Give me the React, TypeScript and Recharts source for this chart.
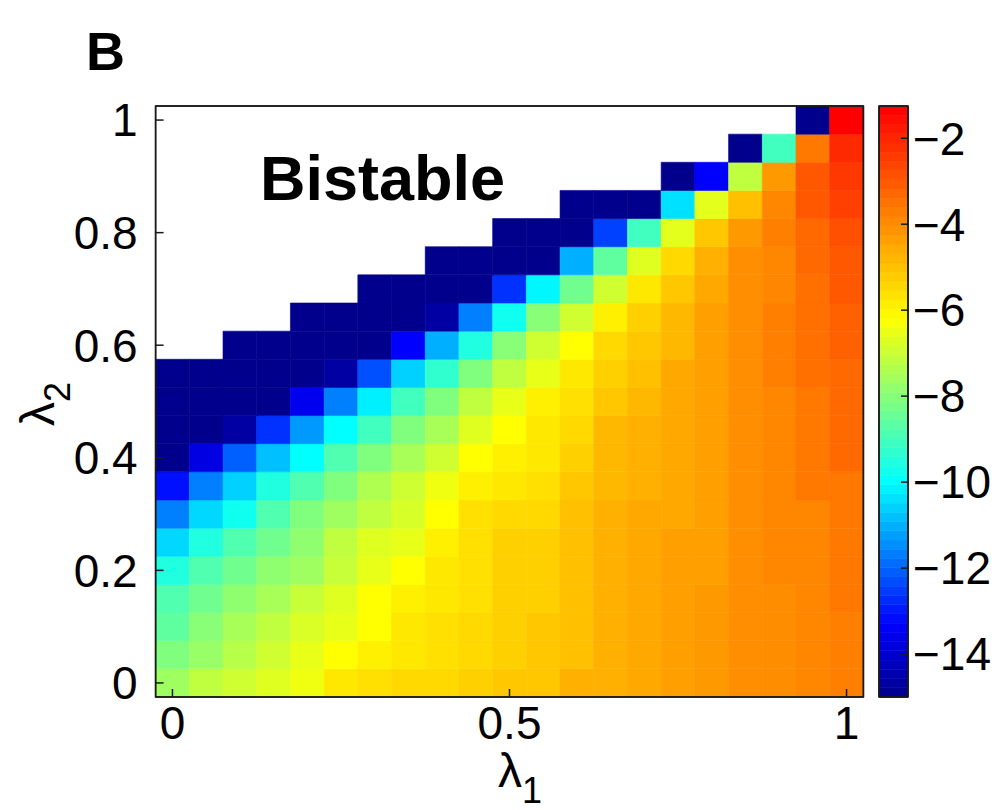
import { ScatterChart, Scatter, XAxis, YAxis, ReferenceArea } from 'recharts'

// grid coordinates (cell centres)
const lambda1 = [0, 0.05, 0.1, 0.15, 0.2, 0.25, 0.3, 0.35, 0.4, 0.45, 0.5, 0.55, 0.6, 0.65, 0.7, 0.75, 0.8, 0.85, 0.9, 0.95, 1]
const lambda2 = [0, 0.05, 0.1, 0.15, 0.2, 0.25, 0.3, 0.35, 0.4, 0.45, 0.5, 0.55, 0.6, 0.65, 0.7, 0.75, 0.8, 0.85, 0.9, 0.95, 1]
const xTicks = [0, 0.5, 1]
const yTicks = [0, 0.2, 0.4, 0.6, 0.8, 1]
const barTicks = [-14, -12, -10, -8, -6, -4, -2]
const cMin = -15
const cMax = -1.25

// one row per lambda2 value, columns follow lambda1; null = bistable (blank)
const z00 = [-7.63, -7.15, -6.91, -6.67, -6.42, -5.76, -5.61, -5.47, -5.47, -5.29, -5.12, -5.12, -4.68, -4.68, -4.53, -4.36, -4.24, -4.04, -4.0, -3.9, -3.75]
const z01 = [-8.1, -7.72, -7.27, -6.91, -6.54, -6.2, -5.91, -5.76, -5.61, -5.47, -5.29, -5.12, -4.98, -4.68, -4.53, -4.36, -4.24, -4.04, -4.0, -3.9, -3.75]
const z02 = [-8.58, -7.98, -7.49, -7.15, -6.77, -6.54, -6.2, -5.76, -5.61, -5.47, -5.29, -5.12, -4.98, -4.68, -4.53, -4.36, -4.24, -4.04, -4.0, -3.9, -3.75]
const z03 = [-8.81, -8.33, -7.86, -7.49, -7.03, -6.67, -6.2, -5.91, -5.76, -5.61, -5.29, -5.29, -4.98, -4.68, -4.53, -4.36, -4.24, -4.04, -4.0, -3.9, -3.6]
const z04 = [-9.52, -8.81, -8.33, -7.86, -7.63, -7.03, -6.54, -6.2, -5.76, -5.61, -5.29, -5.29, -4.98, -4.68, -4.53, -4.36, -4.36, -4.04, -3.9, -3.9, -3.6]
const z05 = [-10.5, -9.52, -8.81, -8.33, -7.86, -7.15, -6.67, -6.54, -5.91, -5.61, -5.29, -5.29, -4.98, -4.68, -4.53, -4.36, -4.36, -4.04, -3.9, -3.9, -3.6]
const z06 = [-11.65, -10.5, -9.77, -8.81, -8.1, -7.63, -7.15, -6.8, -6.2, -5.61, -5.47, -5.47, -4.98, -4.68, -4.53, -4.53, -4.36, -4.04, -3.9, -3.9, -3.6]
const z07 = [-13.1, -11.65, -10.6, -9.52, -8.81, -8.1, -7.39, -6.95, -6.42, -5.91, -5.76, -5.61, -5.12, -4.83, -4.68, -4.53, -4.36, -4.04, -3.9, -3.6, -3.6]
const z08 = [-15, -13.71, -12.06, -10.82, -10, -8.81, -8.1, -7.49, -6.91, -6.2, -5.91, -5.76, -5.29, -4.83, -4.68, -4.53, -4.36, -4.04, -3.9, -3.6, -3.31]
const z09 = [-15, -15, -14.66, -12.67, -11.32, -10, -9.05, -8.1, -7.49, -6.67, -6.2, -5.76, -5.47, -4.83, -4.68, -4.53, -4.36, -4.04, -3.9, -3.6, -3.31]
const z10 = [-15, -15, -15, -15, -13.53, -11.65, -10.2, -9.05, -8.1, -7.15, -6.54, -5.91, -5.61, -5.12, -4.83, -4.53, -4.36, -4.04, -3.9, -3.6, -3.31]
const z11 = [-15, -15, -15, -15, -15, -14.66, -12.27, -10.6, -9.29, -8.1, -7.15, -6.54, -5.76, -5.29, -4.98, -4.53, -4.36, -4.04, -3.75, -3.46, -3.31]
const z12 = [null, null, -15, -15, -15, -15, -15, -13.3, -11.03, -9.52, -7.98, -6.91, -6.2, -5.47, -5.12, -4.83, -4.36, -4.04, -3.75, -3.46, -3.14]
const z13 = [null, null, null, null, -15, -15, -15, -15, -14.66, -11.65, -9.77, -7.98, -6.91, -5.91, -5.29, -4.83, -4.36, -4.04, -3.75, -3.46, -3.14]
const z14 = [null, null, null, null, null, null, -15, -15, -15, -15, -12.67, -10.1, -8.33, -6.91, -5.76, -5.12, -4.53, -4.04, -3.9, -3.46, -2.99]
const z15 = [null, null, null, null, null, null, null, null, -15, -15, -15, -15, -11.03, -8.58, -6.67, -5.47, -4.68, -4.04, -3.9, -3.31, -2.99]
const z16 = [null, null, null, null, null, null, null, null, null, null, -15, -15, -15, -12.47, -9.05, -6.6, -5.12, -4.24, -3.75, -3.31, -2.82]
const z17 = [null, null, null, null, null, null, null, null, null, null, null, null, -15, -15, -15, -10.4, -6.6, -4.98, -3.9, -2.99, -2.53]
const z18 = [null, null, null, null, null, null, null, null, null, null, null, null, null, null, null, -15, -13.3, -7.15, -4.24, -2.99, -2.38]
const z19 = [null, null, null, null, null, null, null, null, null, null, null, null, null, null, null, null, null, -15, -9.05, -3.6, -2.08]
const z20 = [null, null, null, null, null, null, null, null, null, null, null, null, null, null, null, null, null, null, null, -15, -1.3]

const zRows = [z00, z01, z02, z03, z04, z05, z06, z07, z08, z09, z10, z11, z12, z13, z14, z15, z16, z17, z18, z19, z20]

const HALF = 0.025
const FONT = '"Liberation Sans", Arial, Helvetica, sans-serif'

// jet-like colormap anchors
const MAP_V = [-15, -13.3, -10, -6.2, -1.3]
const MAP_C = [
  [0, 0, 0.55],
  [0, 0, 1],
  [0, 1, 1],
  [1, 1, 0],
  [1, 0, 0],
]

function jet(v: number) {
  let k = 0
  if (v <= MAP_V[0]) k = 0
  else if (v >= MAP_V[MAP_V.length - 1]) k = MAP_V.length - 2
  else while (v > MAP_V[k + 1]) k++
  let t = (v - MAP_V[k]) / (MAP_V[k + 1] - MAP_V[k])
  t = Math.max(0, Math.min(1, t))
  const c = MAP_C[k].map((a, i) => Math.round(255 * (a + (MAP_C[k + 1][i] - a) * t)))
  return `rgb(${c[0]},${c[1]},${c[2]})`
}

const cells: { x: number; y: number; v: number }[] = []
zRows.forEach((row, j) =>
  row.forEach((v, i) => {
    if (v !== null) cells.push({ x: lambda1[i], y: lambda2[j], v })
  })
)

// 64 colour bands of the colorbar
const bands = Array.from({ length: 64 }, (_, k) => {
  const lo = cMin + ((cMax - cMin) * k) / 64
  const hi = cMin + ((cMax - cMin) * (k + 1)) / 64
  return { x: 0.5, y: (lo + hi) / 2, lo, hi, color: jet((lo + hi) / 2) }
})

const tickStyle = { fill: '#000', fontSize: 46, fontFamily: FONT }
const lineStyle = { stroke: '#1a1a1a', strokeWidth: 1.5 }
const noShape = () => <g />

function HeatMap() {
  return (
    <ScatterChart width={870} height={810} margin={{ top: 105, right: 5.6, bottom: 53, left: 55.6 }}>
      {cells.map((c, i) => (
        <ReferenceArea
          key={i}
          x1={c.x - HALF}
          x2={c.x + HALF}
          y1={c.y - HALF}
          y2={c.y + HALF}
          fill={jet(c.v)}
          fillOpacity={1}
          stroke={jet(c.v)}
          strokeWidth={0.6}
          ifOverflow="visible"
        />
      ))}
      {/* plot frame */}
      <ReferenceArea x1={-0.025} x2={1.025} y1={-0.025} y2={1.025} fill="none" stroke="#1a1a1a" strokeWidth={1.5} ifOverflow="visible" />
      <Scatter data={cells} dataKey="v" isAnimationActive={false} shape={noShape} />
      <Scatter data={cells} dataKey="v" xAxisId="top" yAxisId="right" isAnimationActive={false} shape={noShape} />
      <XAxis
        type="number"
        dataKey="x"
        domain={[-0.025, 1.025]}
        ticks={xTicks}
        allowDataOverflow
        height={60}
        tickSize={-8}
        tickMargin={17}
        tick={tickStyle}
        axisLine={lineStyle}
        tickLine={lineStyle}
      />
      <XAxis
        xAxisId="top"
        orientation="top"
        type="number"
        dataKey="x"
        domain={[-0.025, 1.025]}
        ticks={xTicks}
        allowDataOverflow
        height={1}
        tickSize={-8}
        tick={false}
        axisLine={lineStyle}
        tickLine={lineStyle}
      />
      <YAxis
        type="number"
        dataKey="y"
        domain={[-0.025, 1.025]}
        ticks={yTicks}
        allowDataOverflow
        width={100}
        tickSize={-8}
        tickMargin={26}
        tick={tickStyle}
        axisLine={lineStyle}
        tickLine={lineStyle}
      />
      <YAxis
        yAxisId="right"
        orientation="right"
        type="number"
        dataKey="y"
        domain={[-0.025, 1.025]}
        ticks={yTicks}
        allowDataOverflow
        width={1}
        tickSize={-8}
        tick={false}
        axisLine={lineStyle}
        tickLine={lineStyle}
      />
    </ScatterChart>
  )
}

function ColorBar() {
  return (
    <ScatterChart width={140} height={810} margin={{ top: 105, right: 0, bottom: 112, left: 18 }}>
      {bands.map((b, i) => (
        <ReferenceArea
          key={i}
          x1={0}
          x2={1}
          y1={b.lo}
          y2={b.hi}
          fill={b.color}
          fillOpacity={1}
          stroke={b.color}
          strokeWidth={0.6}
          ifOverflow="visible"
        />
      ))}
      <ReferenceArea x1={0} x2={1} y1={cMin} y2={cMax} fill="none" stroke="#1a1a1a" strokeWidth={1.5} ifOverflow="visible" />
      <Scatter data={bands} dataKey="y" isAnimationActive={false} shape={noShape} />
      <Scatter data={bands} dataKey="y" xAxisId="top" yAxisId="left" isAnimationActive={false} shape={noShape} />
      <XAxis type="number" dataKey="x" domain={[0, 1]} allowDataOverflow height={1} tick={false} tickLine={false} axisLine={lineStyle} />
      <XAxis
        xAxisId="top"
        orientation="top"
        type="number"
        dataKey="x"
        domain={[0, 1]}
        allowDataOverflow
        height={1}
        tick={false}
        tickLine={false}
        axisLine={lineStyle}
      />
      <YAxis
        yAxisId="left"
        type="number"
        dataKey="y"
        domain={[cMin, cMax]}
        ticks={barTicks}
        allowDataOverflow
        width={1}
        tickSize={-7}
        tick={false}
        axisLine={lineStyle}
        tickLine={lineStyle}
      />
      <YAxis
        orientation="right"
        type="number"
        dataKey="y"
        domain={[cMin, cMax]}
        ticks={barTicks}
        allowDataOverflow
        width={92}
        tickSize={-7}
        tickMargin={12}
        tick={tickStyle}
        tickFormatter={(v: number) => `\u2212${Math.abs(v)}`}
        axisLine={lineStyle}
        tickLine={lineStyle}
      />
    </ScatterChart>
  )
}

export default function App() {
  return (
    <div style={{ position: 'absolute', left: 0, top: 0, width: 1000, height: 810, background: '#fff' }}>
      <div style={{ position: 'absolute', left: 0, top: 0 }}>
        <HeatMap />
      </div>
      <div style={{ position: 'absolute', left: 860, top: 0 }}>
        <ColorBar />
      </div>
      <svg width={1000} height={810} style={{ position: 'absolute', left: 0, top: 0, pointerEvents: 'none' }}>
        <text x={86} y={70} fontFamily={FONT} fontWeight="bold" fontSize={54} fill="#000">
          B
        </text>
        <text x={260} y={200} fontFamily={FONT} fontWeight="bold" fontSize={63} fill="#000">
          Bistable
        </text>
        <text x={498} y={787} fontFamily={FONT} fontSize={48} fill="#000">
          λ<tspan fontSize={36} dy={16}>1</tspan>
        </text>
        <text x={0} y={0} transform="translate(54, 426) rotate(-90)" fontFamily={FONT} fontSize={48} fill="#000">
          λ<tspan fontSize={36} dy={16}>2</tspan>
        </text>
      </svg>
    </div>
  )
}
